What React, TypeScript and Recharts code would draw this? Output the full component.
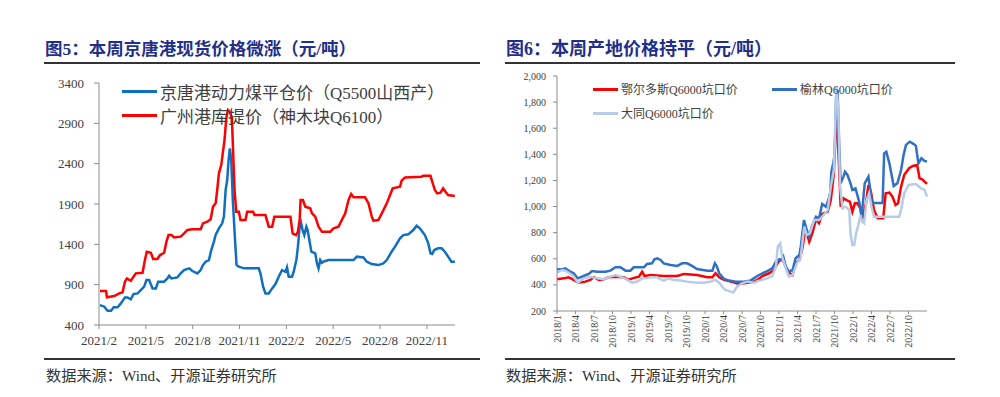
import React from "react";
import { LineChart, Line, XAxis, YAxis } from "recharts";

// ---------- Figure 5 data (x = months since 2021/2) ----------
const jtMonths = [
  0.06, 0.34, 0.55, 0.77, 0.94, 1.19, 1.4, 1.66, 1.83, 2.04,
  2.21, 2.47, 2.68, 2.89, 3.04, 3.21, 3.43, 3.64, 3.79, 4.17,
  4.38, 4.49, 4.64, 5.02, 5.23, 5.45, 5.77, 5.98, 6.3, 6.51,
  6.66, 6.83, 7.04, 7.19, 7.36, 7.47, 7.68, 7.89, 8.0, 8.11,
  8.21, 8.3, 8.38, 8.47, 8.57, 8.7, 8.81, 8.96, 9.28, 10.23,
  10.34, 10.51, 10.66, 10.87, 11.09, 11.3, 11.51, 11.72, 11.94, 12.04,
  12.15, 12.36, 12.47, 12.64, 12.74, 12.85, 12.94, 13.04, 13.15, 13.28,
  13.36, 13.49, 13.6, 13.85, 13.96, 14.06, 14.17, 14.28, 14.38, 14.7,
  16.3, 16.51, 16.94, 17.15, 17.47, 17.89, 18.21, 18.43, 18.74, 18.96,
  19.28, 19.49, 19.81, 20.13, 20.34, 20.55, 20.87, 21.09, 21.23, 21.34,
  21.47, 21.72, 21.94, 22.15, 22.36, 22.57, 22.79,
];
const jtPrices = [
  647, 627, 577, 577, 619, 619, 668, 742, 742, 718,
  784, 792, 833, 875, 958, 958, 854, 854, 937, 937,
  978, 1011, 978, 990, 1040, 1081, 1102, 1069, 1040, 1081,
  1143, 1185, 1205, 1329, 1433, 1515, 1598, 1660, 1743, 2073,
  2197, 2445, 2590, 2445, 1949, 1495, 1143, 1123, 1102, 1102,
  1040, 875, 792, 792, 854, 908, 999, 1081, 1060, 1114,
  999, 999, 1060, 1205, 1371, 1619, 1668, 1577, 1515, 1619,
  1577, 1433, 1309, 1288, 1164, 1102, 1205, 1172, 1185, 1205,
  1205, 1247, 1238, 1185, 1156, 1143, 1164, 1205, 1309, 1371,
  1474, 1515, 1524, 1577, 1631, 1598, 1515, 1412, 1288, 1280,
  1329, 1350, 1350, 1309, 1247, 1185, 1185,
];
const gzMonths = [
  0.06, 0.45, 0.51, 0.98, 1.3, 1.51, 1.66, 1.79, 2.04, 2.21,
  2.36, 2.79, 2.94, 3.06, 3.32, 3.47, 3.74, 3.91, 4.17, 4.32,
  4.45, 4.64, 4.81, 5.23, 5.45, 5.66, 5.98, 6.51, 6.66, 6.94,
  7.15, 7.3, 7.47, 7.57, 7.68, 7.83, 7.94, 8.04, 8.15, 8.26,
  8.38, 8.51, 8.57, 8.68, 8.79, 8.96, 9.06, 9.38, 9.49, 9.87,
  9.96, 10.66, 10.87, 11.09, 11.23, 12.26, 12.4, 12.62, 12.74, 12.85,
  12.91, 13.06, 13.21, 13.53, 13.64, 13.85, 14.06, 14.28, 14.81, 15.02,
  15.34, 15.55, 15.77, 15.98, 16.15, 16.3, 17.04, 17.26, 17.47, 17.57,
  17.89, 18.11, 18.43, 18.64, 18.81, 19.28, 19.38, 19.6, 20.66, 20.77,
  21.23, 21.34, 21.51, 21.66, 21.87, 22.04, 22.19, 22.36, 22.79,
];
const gzPrices = [
  821, 821, 743, 759, 792, 805, 937, 978, 949, 999,
  1040, 1048, 1205, 1309, 1296, 1218, 1218, 1267, 1296, 1433,
  1515, 1515, 1486, 1495, 1536, 1578, 1586, 1586, 1660, 1681,
  1710, 1867, 1908, 2073, 2280, 2383, 2549, 2693, 2962, 3065,
  3045, 2962, 2652, 2073, 1805, 1805, 1701, 1701, 1805, 1805,
  1763, 1763, 1619, 1619, 1743, 1743, 1536, 1515, 1557, 1701,
  1949, 1949, 1867, 1846, 1784, 1743, 1619, 1557, 1557, 1598,
  1619, 1701, 1784, 1949, 2024, 1983, 1983, 1908, 1743, 1693,
  1701, 1784, 1908, 2011, 2094, 2115, 2189, 2230, 2239, 2251,
  2251, 2177, 2073, 2032, 2040, 2094, 2053, 2011, 1999,
];
const fig5Ticks = [0, 3, 6, 9, 12, 15, 18, 21];
const fig5TickLabels = ["2021/2", "2021/5", "2021/8", "2021/11", "2022/2", "2022/5", "2022/8", "2022/11"];
const fig5YTicks = [400, 900, 1400, 1900, 2400, 2900, 3400];

// ---------- Figure 6 data (x = months since 2018/1) ----------
const ylMonths = [
  0, 0.8, 1.35, 2.17, 2.7, 3.36, 4.33, 5.14, 5.69, 6.5,
  7.85, 8.66, 9.47, 10.29, 11.1, 11.9, 12.45, 14.08, 14.6, 15.4,
  15.8, 16.24, 16.8, 17.3, 18.4, 19.5, 20.3, 21.1, 21.9, 22.7,
  24.4, 25.2, 25.6, 25.9, 26.3, 27.1, 27.9, 29, 30.3, 31.4,
  31.9, 32.5, 33.3, 34.1, 34.9, 35.5, 36, 36.4, 36.7, 37.1,
  37.6, 38.2, 38.7, 39.3, 39.5, 40.05, 40.5, 40.9, 41.3, 42,
  42.5, 43, 43.6, 44, 44.3, 44.5, 44.8, 45.05, 45.26, 45.5,
  45.75, 46, 46.45, 46.7, 47.1, 47.6, 47.9, 48.4, 49.0, 49.4,
  49.9, 50.5, 51.1, 52.0, 52.8, 53.05, 53.4, 53.9, 54.6, 55.2,
  55.8, 56.2, 56.6, 57.2, 57.8, 58.2, 58.6, 59.1, 59.6, 60,
];
const ylPrices = [
  519, 519, 527, 501, 489, 450, 468, 484, 506, 501,
  501, 509, 535, 535, 509, 509, 535, 535, 560, 565,
  596, 604, 591, 565, 553, 545, 565, 565, 545, 522,
  509, 509, 565, 545, 489, 445, 433, 425, 425, 433,
  450, 468, 489, 506, 527, 578, 596, 591, 616, 540,
  501, 514, 604, 629, 680, 897, 820, 770, 846, 922,
  910, 1020, 999, 1050, 1101, 1267, 1331, 1408, 1842, 1893,
  1484, 1178, 1229, 1267, 1242, 1178, 1127, 1140, 1037, 922,
  1178, 1229, 1027, 1027, 1027, 1408, 1420, 1331, 1157, 1178,
  1280, 1395, 1472, 1497, 1480, 1465, 1331, 1370, 1350, 1344,
];
const eedsMonths = [
  0, 1.1, 1.9, 2.7, 3.5, 4.6, 5.4, 6, 6.8, 7.6,
  8.4, 9.5, 10.8, 11.6, 12.2, 13.3, 13.8, 14.2, 15.2, 17.3,
  19.5, 20.6, 22.7, 24.4, 25.2, 25.7, 26.3, 27.1, 28.2, 29.5,
  30.9, 31.9, 32.5, 33.3, 34.4, 35.2, 35.8, 36.5, 36.9, 37.4,
  38.2, 38.7, 39.3, 39.8, 40.3, 40.9, 41.4, 42, 42.5, 43,
  43.9, 44.4, 44.9, 45.3, 45.6, 46, 46.45, 47.1, 47.5, 47.9,
  48.3, 48.7, 49.2, 49.5, 50.1, 50.5, 50.9, 51.4, 52, 52.9,
  53.3, 53.9, 54.4, 54.9, 55.3, 55.8, 56.3, 57.1, 57.7, 58.4,
  58.8, 59.2, 59.6, 60,
];
const eedsPrices = [
  443, 450, 458, 438, 417, 425, 438, 458, 438, 443,
  458, 463, 458, 438, 450, 463, 501, 468, 476, 468,
  468, 484, 476, 458, 458, 489, 458, 438, 425, 407,
  417, 425, 438, 468, 489, 514, 570, 604, 560, 501,
  476, 565, 591, 680, 833, 731, 795, 902, 872, 943,
  961, 1050, 1255, 1765, 1459, 999, 1063, 1045, 1038, 961,
  1025, 1025, 987, 902, 1025, 1165, 1114, 974, 910, 910,
  1101, 1107, 1076, 1012, 1025, 1153, 1242, 1293, 1311, 1318,
  1216, 1209, 1191, 1173,
];
const dtMonths = [
  0, 0.8, 1.35, 2.2, 2.7, 3.4, 4.3, 5.4, 6.5, 7.6,
  8.7, 9.5, 10.6, 11.4, 12.2, 13, 13.8, 14.3, 15.2, 16.2,
  16.8, 17.3, 18.1, 18.9, 20, 21.1, 22.7, 23.8, 24.9, 25.7,
  26.3, 26.8, 27.3, 28.2, 28.6, 29.2, 30, 30.9, 31.9, 32.8,
  34.1, 34.9, 35.5, 35.8, 36.2, 36.5, 37.1, 37.6, 38.2, 38.9,
  39.5, 40.1, 40.5, 41, 41.7, 42.5, 43, 43.9, 44.4, 44.9,
  45.3, 45.6, 45.9, 46.3, 46.8, 47.4, 47.6, 47.9, 48.2, 48.5,
  48.8, 49.2, 49.5, 49.8, 50.2, 50.6, 51, 51.4, 52.2, 55.5,
  55.9, 56.3, 57, 58.2, 59, 59.6, 60,
];
const dtPrices = [
  494, 514, 509, 484, 463, 417, 450, 463, 450, 443,
  463, 476, 458, 438, 417, 425, 450, 450, 458, 458,
  443, 433, 450, 438, 433, 425, 417, 417, 425, 438,
  417, 387, 361, 348, 341, 387, 412, 425, 417, 433,
  450, 468, 540, 693, 718, 616, 527, 463, 476, 565,
  604, 846, 782, 795, 897, 897, 922, 974, 1153, 1280,
  1918, 1765, 1153, 987, 999, 974, 795, 706, 706, 795,
  846, 935, 884, 872, 1050, 1101, 999, 922, 922, 922,
  999, 1101, 1165, 1173, 1140, 1127, 1076,
];
const fig6Ticks = [0, 3, 6, 9, 12, 15, 18, 21, 24, 27, 30, 33, 36, 39, 42, 45, 48, 51, 54, 57];
const fig6TickLabels = [
  "2018/1", "2018/4", "2018/7", "2018/10", "2019/1", "2019/4", "2019/7", "2019/10",
  "2020/1", "2020/4", "2020/7", "2020/10", "2021/1", "2021/4", "2021/7", "2021/10",
  "2022/1", "2022/4", "2022/7", "2022/10",
];
const fig6YTicks = [200, 400, 600, 800, 1000, 1200, 1400, 1600, 1800, 2000];

const zip = (ms: number[], vs: number[]) => ms.map((m, i) => ({ m, v: vs[i] }));

const SERIF = '"Liberation Serif", "Times New Roman", "Noto Sans CJK SC", serif';
const TITLE_COLOR = "#1f2f8a";
const TEXT = "#404040";
const AXIS = "#8c8c8c";

const Fig6XTick = (props: any) => {
  const { x, y, payload } = props;
  const idx = fig6Ticks.indexOf(payload.value);
  return (
    <text
      x={x}
      y={y}
      transform={`rotate(-90, ${x}, ${y})`}
      textAnchor="end"
      dy="0.35em"
      fontSize={10}
      fontFamily={SERIF}
      fill={TEXT}
    >
      {fig6TickLabels[idx]}
    </text>
  );
};

const abs = (s: React.CSSProperties): React.CSSProperties => ({ position: "absolute", ...s });

const LegendItem = ({ left, top, color, label, lineW, fontSize }: any) => (
  <div style={abs({ left, top, height: 20, display: "flex", alignItems: "center", whiteSpace: "nowrap" })}>
    <div style={{ width: lineW, height: 3, background: color, marginRight: 3 }} />
    <span style={{ fontFamily: SERIF, fontSize, color: TEXT }}>{label}</span>
  </div>
);

export default function App() {
  const jt = zip(jtMonths, jtPrices);
  const gz = zip(gzMonths, gzPrices);
  const yl = zip(ylMonths, ylPrices);
  const eeds = zip(eedsMonths, eedsPrices);
  const dt = zip(dtMonths, dtPrices);

  return (
    <div style={abs({ left: 0, top: 0, width: 1000, height: 397, background: "#fff", overflow: "hidden" })}>
      {/* Titles */}
      <div style={abs({ left: 45, top: 35, fontFamily: SERIF, fontWeight: 700, fontSize: 17.5, color: TITLE_COLOR, whiteSpace: "nowrap" })}>
        图5：本周京唐港现货价格微涨（元/吨）
      </div>
      <div style={abs({ left: 506, top: 34, fontFamily: SERIF, fontWeight: 700, fontSize: 18, color: TITLE_COLOR, whiteSpace: "nowrap" })}>
        图6：本周产地价格持平（元/吨）
      </div>
      <div style={abs({ left: 44, top: 62, width: 436, height: 2, background: "#333" })} />
      <div style={abs({ left: 505, top: 62, width: 450, height: 2, background: "#333" })} />
      <div style={abs({ left: 44, top: 358, width: 436, height: 2, background: "#333" })} />
      <div style={abs({ left: 505, top: 358, width: 450, height: 2, background: "#333" })} />
      <div style={abs({ left: 46, top: 363, fontFamily: SERIF, fontSize: 15.2, color: "#333", whiteSpace: "nowrap" })}>
        数据来源：Wind、开源证券研究所
      </div>
      <div style={abs({ left: 506, top: 363, fontFamily: SERIF, fontSize: 15.2, color: "#333", whiteSpace: "nowrap" })}>
        数据来源：Wind、开源证券研究所
      </div>

      {/* Figure 5 */}
      <div style={abs({ left: 0, top: 0 })}>
        <LineChart width={480} height={397} margin={{ top: 83, right: 25, bottom: 42, left: 49 }}>
          <XAxis
            type="number"
            dataKey="m"
            domain={[0, 22.8]}
            ticks={fig5Ticks}
            tickFormatter={(v: number) => fig5TickLabels[fig5Ticks.indexOf(v)]}
            height={30}
            tickSize={4}
            tickMargin={7}
            stroke={AXIS}
            tick={{ fontSize: 13, fontFamily: SERIF, fill: TEXT }}
            allowDataOverflow
            interval={0}
          />
          <YAxis
            type="number"
            domain={[400, 3400]}
            ticks={fig5YTicks}
            width={50}
            tickSize={5}
            tickMargin={10}
            stroke={AXIS}
            tick={{ fontSize: 13, fontFamily: SERIF, fill: TEXT }}
            interval={0}
          />
          <Line data={jt} dataKey="v" stroke="#0f6fc0" strokeWidth={2.5} dot={false} isAnimationActive={false} type="linear" />
          <Line data={gz} dataKey="v" stroke="#ff0000" strokeWidth={2.5} dot={false} isAnimationActive={false} type="linear" />
        </LineChart>
      </div>
      <LegendItem left={122} top={81} color="#0f6fc0" label="京唐港动力煤平仓价（Q5500山西产）" lineW={35} fontSize={17} />
      <LegendItem left={122} top={105} color="#ff0000" label="广州港库提价（神木块Q6100）" lineW={35} fontSize={17} />

      {/* Figure 6 */}
      <div style={abs({ left: 490, top: 0 })}>
        <LineChart width={460} height={397} margin={{ top: 76, right: 23, bottom: 36, left: 17 }}>
          <XAxis
            type="number"
            dataKey="m"
            domain={[0, 60]}
            ticks={fig6Ticks}
            height={50}
            tickSize={3}
            tickMargin={1}
            stroke={AXIS}
            tick={<Fig6XTick />}
            interval={0}
          />
          <YAxis
            type="number"
            domain={[200, 2000]}
            ticks={fig6YTicks}
            width={50}
            tickSize={4}
            tickMargin={7}
            stroke={AXIS}
            tick={{ fontSize: 10, fontFamily: SERIF, fill: TEXT }}
            tickFormatter={(v: number) => v.toLocaleString("en-US")}
            interval={0}
          />
          <Line data={eeds} dataKey="v" stroke="#ff0000" strokeWidth={2.5} dot={false} isAnimationActive={false} type="linear" />
          <Line data={yl} dataKey="v" stroke="#3070c4" strokeWidth={2.5} dot={false} isAnimationActive={false} type="linear" />
          <Line data={dt} dataKey="v" stroke="#b7cce8" strokeWidth={2.5} dot={false} isAnimationActive={false} type="linear" />
        </LineChart>
      </div>
      <LegendItem left={593} top={79} color="#ff0000" label="鄂尔多斯Q6000坑口价" lineW={25} fontSize={12} />
      <LegendItem left={772} top={79} color="#3070c4" label="榆林Q6000坑口价" lineW={25} fontSize={12} />
      <LegendItem left={593} top={103} color="#b7cce8" label="大同Q6000坑口价" lineW={25} fontSize={12} />
    </div>
  );
}
